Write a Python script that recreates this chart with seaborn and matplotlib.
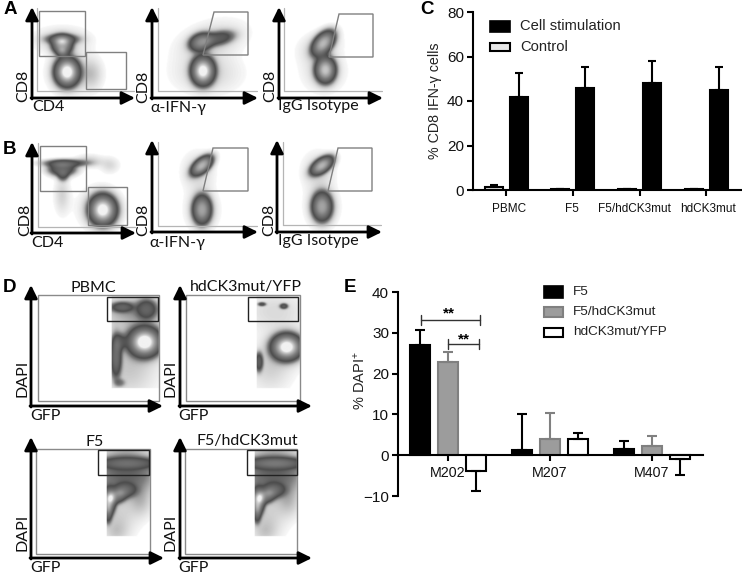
import numpy as np
import pandas as pd
import matplotlib
matplotlib.use("Agg")
import matplotlib.pyplot as plt
from matplotlib.colors import LinearSegmentedColormap
from matplotlib.patches import Polygon, Rectangle
from matplotlib.transforms import ScaledTranslation
import seaborn as sns

sns.set_theme(style="white")
plt.rcParams["mathtext.default"] = "regular"
W, H = 742, 575
SANS = "Liberation Sans"
FLOW = "Lato"

# ---------- bar data ----------
c_groups = ["PBMC", "F5", "F5/hdCK3mut", "hdCK3mut"]
c_stim = [42.0, 45.8, 48.2, 45.0]
c_stim_err = [10.8, 9.7, 9.8, 10.5]
c_ctrl = [1.5, 0.4, 0.4, 0.4]
c_ctrl_err = [0.8, 0.2, 0.2, 0.2]

e_groups = ["M202", "M207", "M407"]
e_f5 = [27.0, 1.3, 1.6]
e_f5_err = [3.7, 8.9, 1.9]
e_mut = [22.9, 4.0, 2.3]
e_mut_err = [2.5, 6.4, 2.45]
e_yfp = [-3.8, 3.9, -1.0]
e_yfp_err = [5.0, 1.5, 3.75]

# ---------- flow populations: (x, y, sd_x, sd_y, tilt_deg, peak) ----------
a1_pop = [(30, 59, 12, 3.6, 0, .30), (30, 53, 7, 6.5, 0, .72), (30, 46, 3.5, 3, 0, .22), (30, 58, 17, 8, 0, .07),
          (35, 26, 8.5, 10, 0, 1.0), (38, 25, 13, 13, 0, .08), (60, 24, 7, 10, 0, .07)]
a2_pop = [(49, 56, 8.5, 6, 20, .6), (68, 60, 11, 5, 12, .28), (60, 58, 21, 11, 15, .07),
          (51, 27, 8, 10, 0, 1.0), (55, 25, 21, 13, 0, .06)]
a3_pop = [(44, 55, 10, 6, 50, .8), (40, 52, 13, 9, 20, .06), (46, 28, 7, 9, 0, .85), (44, 27, 13, 13, 0, .06)]
b1_pop = [(33, 70, 16, 2.8, 0, .30), (30, 64, 10, 5, 0, .42), (31, 57, 4, 4, 0, .2), (30, 38, 5, 12, 0, .06),
          (78, 68, 6, 5, 0, .05), (57, 72, 9, 4, 0, .07), (71, 23, 9.5, 10.5, 0, 1.0), (68, 24, 13, 13, 0, .07)]
b2_pop = [(50, 66, 9, 4.8, 40, .8), (46, 60, 10, 12, 0, .06), (50, 22, 6.5, 10, 0, .72), (50, 22, 10, 13, 0, .07)]
b3_pop = [(45, 66, 9, 4.8, 35, .8), (41, 60, 10, 12, 0, .06), (45, 25, 7, 10, 0, .72), (45, 25, 10, 13, 0, .07)]
d1_pop = [(114, 64, 11, 10, 0, 1.0), (114, 64, 15, 13, 0, .07), (85, 49, 4, 15, 0, .42), (89, 64, 5, 6, 0, .2),
          (116, 97, 7, 7, 0, .3), (91, 99, 8, 3.5, 0, .3), (105, 97, 22, 8, 0, .09), (89, 23, 4, 3, 0, .12),
          (100, 85, 25, 20, 0, .06), (98, 35, 18, 18, 0, .07)]
d2_pop = [(107, 59, 10.5, 9, 0, 1.0), (107, 59, 14, 12, 0, .07), (79, 44, 3, 7, 0, .33),
          (82, 102, 3, 1.5, 0, .26), (104, 100, 3, 2, 0, .32), (95, 95, 22, 14, 0, .05), (90, 38, 14, 16, 0, .06)]
d3_pop = [(78, 57, 4.5, 9, 0, .75), (86, 62, 7, 5, 20, .45), (94, 68, 8, 5, 0, .3), (77, 44, 3, 7, 0, .3),
          (95, 86, 24, 18, 0, .22), (97, 95, 24, 4, 0, .3),
          (88, 40, 12, 14, 0, .06), (85, 25, 8, 8, 0, .05), (110, 55, 8, 10, 0, .07)]
d4_pop = [(78, 57, 4.5, 9, 0, .75), (86, 62, 7, 5, 20, .45), (94, 68, 8, 5, 0, .3), (77, 44, 3, 7, 0, .3),
          (94, 86, 24, 18, 0, .22), (96, 95, 24, 4, 0, .36),
          (88, 40, 12, 14, 0, .06), (85, 25, 8, 8, 0, .05), (109, 55, 8, 10, 0, .07)]

flow_cmap = LinearSegmentedColormap.from_list(
    "flow", [(0, "#ffffff"), (.02, "#eeeeee"), (.08, "#c4c4c4"), (.16, "#7c7c7c"), (.26, "#4c4c4c"), (.4, "#626262"),
             (.6, "#7e7e7e"), (.8, "#a6a6a6"), (.93, "#cdcdcd"), (1, "#f2f2f2")])

fig = plt.figure(figsize=(W / 100, H / 100), dpi=100, facecolor="white")


def add_px_axes(left, top, right, bottom, **kw):
    return fig.add_axes([left / W, 1 - bottom / H, (right - left) / W, (bottom - top) / H], **kw)


# overlay in figure pixels for labels and arrows
ov = fig.add_axes([0, 0, 1, 1], zorder=10)
ov.set_xlim(0, W)
ov.set_ylim(H, 0)
ov.axis("off")
ov.patch.set_alpha(0)


def flow_panel(ox, oy, size_x, size_y, pop, gates, gate_color="#808080", box=None, clip=None, inner=None):
    ax = add_px_axes(ox, oy - size_y, ox + size_x, oy)
    xs = np.arange(0, size_x + 0.5, 0.5)
    ys = np.arange(0, size_y + 0.5, 0.5)
    gx, gy = np.meshgrid(xs, ys)
    dens = np.zeros_like(gx)
    for x, y, sx, sy, tilt, peak in pop:
        t = np.radians(tilt)
        u = (gx - x) * np.cos(t) + (gy - y) * np.sin(t)
        v = -(gx - x) * np.sin(t) + (gy - y) * np.cos(t)
        power = 1.25 if peak > 0.1 else 1.0  # dense populations have a sharper rim than the scatter around them
        dens += peak * np.exp(-0.5 * ((u / sx) ** 2 + (v / sy) ** 2) ** power)
    if clip is not None:
        dens[(gx < clip[0]) | (gx > clip[1]) | (gy < clip[2]) | (gy > clip[3])] = 0
    dens[dens < 0.01] = 0
    ax.imshow(dens, origin="lower", extent=(0, size_x, 0, size_y), cmap=flow_cmap, vmin=0, vmax=1,
              aspect="auto", interpolation="bilinear")
    ax.set_xlim(0, size_x)
    ax.set_ylim(0, size_y)
    ax.axis("off")
    if inner is not None:
        ax.plot([inner[0], inner[0]], [inner[1], size_y - 2], color="#b5b5b5", lw=0.9)
        ax.plot([inner[0], size_x - 1], [inner[1], inner[1]], color="#b5b5b5", lw=0.9)
    if box is not None:
        ax.add_patch(Rectangle((box[0], box[1]), box[2] - box[0], box[3] - box[1], fill=False, ec="#8a8a8a", lw=1.0))
    for g in gates:
        ax.add_patch(Polygon(g, closed=True, fill=False, ec=gate_color, lw=1.0))
    return ax


def rect_gate(x0, y0, x1, y1):
    return [(x0, y0), (x1, y0), (x1, y1), (x0, y1)]


def arrows(ox, oy, xend, ytop):
    style = dict(arrowstyle="-|>,head_width=0.32,head_length=0.65", color="black", lw=2.0,
                 shrinkA=0, shrinkB=0, mutation_scale=12)
    ov.annotate("", xy=(ox, ytop), xytext=(ox, oy + 1), arrowprops=style)
    ov.annotate("", xy=(xend, oy), xytext=(ox - 1, oy), arrowprops=style)


def flabel(x, y, s, rot=0, ha="center", size=11.5):
    ov.text(x, y, s, ha=ha, va="center", rotation=rot, fontsize=size, family=FLOW, color="#111111")


# Panels A and B
flow_panel(32, 98, 103, 92, a1_pop, [rect_gate(7, 42, 53, 87), rect_gate(54, 9, 94, 46)], inner=(5, 7))
flow_panel(152, 98, 106, 92, a2_pop, [[(62, 86), (96, 86), (96, 43), (51, 43)]], inner=(6, 7))
flow_panel(279, 98, 104, 92, a3_pop, [[(60, 84), (94, 84), (94, 41), (50, 41)]], inner=(5, 7))
flow_panel(32, 233, 104, 92, b1_pop, [rect_gate(8, 42, 54, 87), rect_gate(56, 8, 95, 46)], inner=(6, 6))
flow_panel(152, 232, 106, 92, b2_pop, [[(61, 84), (96, 84), (96, 41), (51, 41)]], inner=(6, 6))
flow_panel(277, 232, 105, 92, b3_pop, [[(61, 84), (95, 84), (95, 41), (51, 41)]], inner=(6, 7))

# Panels D
flow_panel(31, 406, 132, 121, d1_pop, [rect_gate(76, 85, 127, 109)], gate_color="#222222",
           box=(7, 5, 128, 111), clip=(81, 128, 18, 110))
flow_panel(180, 406, 132, 121, d2_pop, [rect_gate(68, 85, 118, 109)], gate_color="#222222",
           box=(6, 5, 120, 111), clip=(77, 120, 18, 110))
flow_panel(31, 558, 133, 121, d3_pop, [rect_gate(67, 83, 118, 108)], gate_color="#222222",
           box=(5, 4, 119, 109), clip=(76, 119, 22, 108))
flow_panel(180, 558, 132, 121, d4_pop, [rect_gate(67, 83, 117, 108)], gate_color="#222222",
           box=(5, 4, 117, 109), clip=(75, 117, 22, 108))

for a in [(32, 98, 135, 7), (152, 98, 258, 7), (279, 98, 383, 7),
          (32, 233, 136, 142), (152, 232, 258, 140), (277, 232, 382, 140),
          (31, 406, 163, 285), (180, 406, 312, 285), (31, 558, 164, 437), (180, 558, 312, 437)]:
    arrows(*a)

for x, y in [(23, 86), (143, 87), (270, 86), (25, 220), (143, 220), (269, 220)]:
    flabel(x, y, "CD8", rot=90)
flabel(48, 107, "CD4")
flabel(178, 108, "α-IFN-γ")
flabel(318, 106, "IgG Isotype")
flabel(47, 243, "CD4")
flabel(177, 243, "α-IFN-γ")
flabel(318, 241, "IgG Isotype")
for x, y in [(23, 378), (171, 378), (23, 532), (171, 532)]:
    flabel(x, y, "DAPI", rot=90)
for x, y in [(45, 416), (193, 416), (45, 568), (193, 568)]:
    flabel(x, y, "GFP")
flabel(93, 288, "PBMC")
flabel(246, 287, "hdCK3mut/YFP")
flabel(95, 442, "F5")
flabel(247, 441, "F5/hdCK3mut")

for x, y, s in [(10, 10, "A"), (10, 150, "B"), (427, 9, "C"), (10, 288, "D"), (350, 288, "E")]:
    ov.text(x, y, s, ha="center", va="center", fontsize=13.5, fontweight="bold", family=SANS, color="black")


def style_axis(ax):
    sns.despine(ax=ax)
    for s in ["left", "bottom"]:
        ax.spines[s].set_linewidth(1.5)
        ax.spines[s].set_color("black")
    ax.spines["bottom"].set_position(("data", 0))
    ax.tick_params(axis="both", length=4.5, width=1.5, color="black", bottom=True, left=True)
    ax.set_xlabel("")


def add_errors(ax, vals, errs, i, color, capsize):
    bars = ax.containers[i]
    for p, v, e in zip(bars.patches, vals, errs):
        x = p.get_x() + p.get_width() / 2
        yerr = ([[0], [e]] if v >= 0 else [[e], [0]])
        ax.errorbar([x], [v], yerr=yerr, color=color, capsize=capsize, capthick=1.5, elinewidth=1.5,
                    fmt="none", zorder=1)


# Panel C
df_c = pd.DataFrame({
    "group": c_groups * 2,
    "value": c_ctrl + c_stim,
    "kind": ["Control"] * 4 + ["Cell stimulation"] * 4,
})
axc = add_px_axes(473, 12, 741, 190)
sns.barplot(data=df_c, x="group", y="value", hue="kind", order=c_groups, hue_order=["Control", "Cell stimulation"],
            palette=["#e6e6e6", "black"], edgecolor="black", linewidth=1.5, width=0.75, gap=0.28,
            errorbar=None, legend=False, saturation=1, ax=axc)
add_errors(axc, c_ctrl, c_ctrl_err, 0, "black", 3)
add_errors(axc, c_stim, c_stim_err, 1, "black", 3.2)
axc.set_xlim(-0.495, 3.52)
axc.set_ylim(0, 80)
axc.set_yticks([0, 20, 40, 60, 80])
style_axis(axc)
axc.set_ylabel("")
axc.tick_params(axis="y", labelsize=11, pad=2, labelcolor="#111111")
axc.tick_params(axis="x", labelsize=8.5, pad=5, labelcolor="#111111")
for t in axc.get_xticklabels() + axc.get_yticklabels():
    t.set_family(SANS)
# the two long category labels sit slightly apart from their ticks
for t, dx in zip(axc.get_xticklabels(), [3, -1, -5, 2]):
    t.set_transform(t.get_transform() + ScaledTranslation(dx / 100, 0, fig.dpi_scale_trans))
ov.text(435, 101, "% CD8 IFN-γ cells", rotation=90, ha="center", va="center", fontsize=10.3, family=SANS, color="#222222")
ov.add_patch(Rectangle((490, 21), 20, 11, fc="black", ec="black", lw=1.2))
ov.add_patch(Rectangle((490, 43), 20, 8, fc="#e6e6e6", ec="black", lw=1.5))
ov.text(520, 26, "Cell stimulation", ha="left", va="center", fontsize=10.6, family=SANS, color="#222222")
ov.text(520, 47, "Control", ha="left", va="center", fontsize=10.6, family=SANS, color="#222222")

# Panel E
df_e = pd.DataFrame({
    "group": e_groups * 3,
    "value": e_f5 + e_mut + e_yfp,
    "kind": ["F5"] * 3 + ["F5/hdCK3mut"] * 3 + ["hdCK3mut/YFP"] * 3,
})
axe = add_px_axes(398, 292, 703, 496)
sns.barplot(data=df_e, x="group", y="value", hue="kind", order=e_groups,
            palette=["black", "#9c9c9c", "white"], edgecolor="black", linewidth=1.5, width=0.825, gap=0.29,
            errorbar=None, legend=False, saturation=1, ax=axe)
for p in axe.containers[1].patches:
    p.set_edgecolor("#808080")
add_errors(axe, e_f5, e_f5_err, 0, "black", 3.8)
add_errors(axe, e_mut, e_mut_err, 1, "#808080", 3.8)
add_errors(axe, e_yfp, e_yfp_err, 2, "black", 3.8)
axe.set_xlim(-0.49, 2.5)
axe.set_ylim(-10, 40)
axe.set_yticks([-10, 0, 10, 20, 30, 40])
style_axis(axe)
axe.set_ylabel("")
axe.tick_params(axis="y", labelsize=11, pad=2, labelcolor="#111111")
axe.tick_params(axis="x", labelsize=10.3, pad=3, labelcolor="#111111")
for t in axe.get_xticklabels() + axe.get_yticklabels():
    t.set_family(SANS)
ov.text(360, 381, "% DAPI$^{+}$", rotation=90, ha="center", va="center", fontsize=10.5, family=SANS, color="#222222")

for y0, y1, fc, ec, lw, s, ty in [(286, 298, "black", "black", 1.2, "F5", 292),
                                  (307, 317, "#9c9c9c", "#808080", 1.5, "F5/hdCK3mut", 312),
                                  (328, 337, "white", "black", 1.5, "hdCK3mut/YFP", 332)]:
    ov.add_patch(Rectangle((544, y0), 19, y1 - y0, fc=fc, ec=ec, lw=lw))
    ov.text(573, ty, s, ha="left", va="center", fontsize=9.7, family=SANS, color="#222222")

for x0, x1, y, sx, sy in [(421, 480, 320, 449, 313), (448, 479, 344, 464, 339)]:
    ov.plot([x0, x1], [y, y], color="#333333", lw=1.0)
    ov.plot([x0, x0], [y - 5, y + 5], color="#333333", lw=1.0)
    ov.plot([x1, x1], [y - 5, y + 5], color="#333333", lw=1.0)
    ov.text(sx, sy, "**", ha="center", va="center", fontsize=11, fontweight="bold", family=SANS, color="black")

fig.savefig("out.png", dpi=100, facecolor="white")
